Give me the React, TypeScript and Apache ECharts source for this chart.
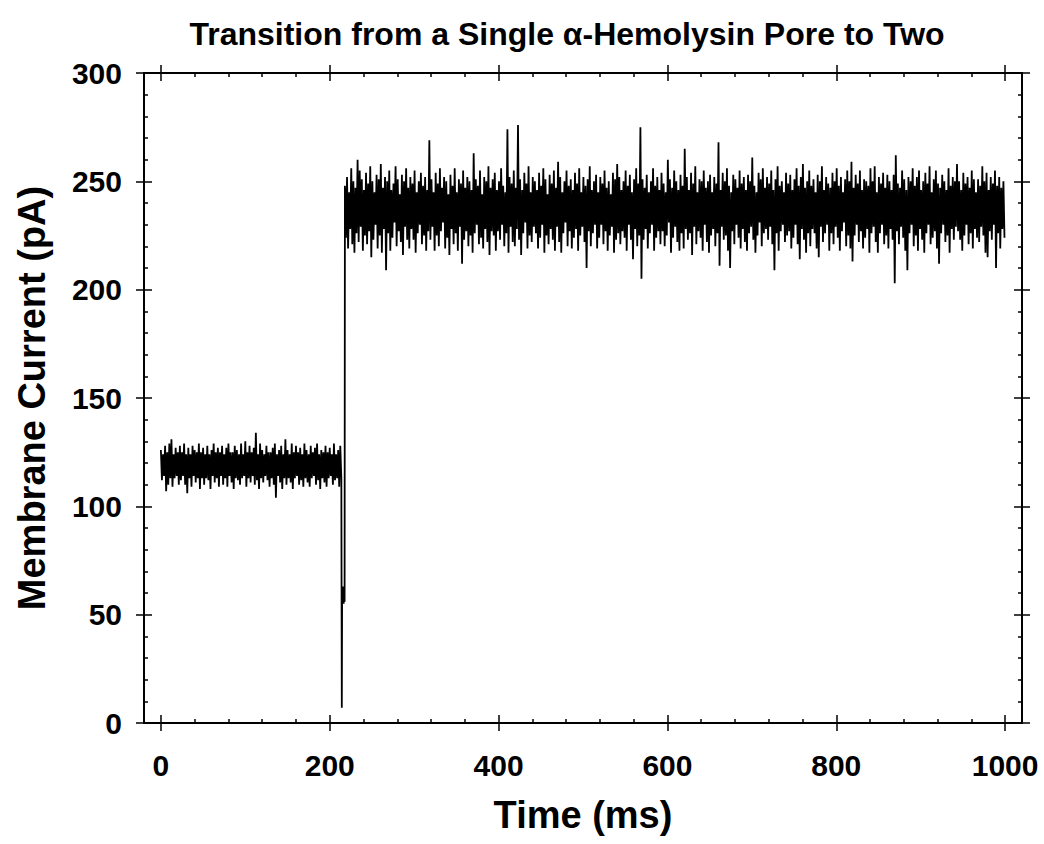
import React, { useEffect, useRef } from "react";
import * as echarts from "echarts";

// ---------- data ----------
const X_MIN = -20;
const X_MAX = 1020;
const Y_MIN = 0;
const Y_MAX = 300;

const xMajorTicks = [0, 200, 400, 600, 800, 1000];
const xMinorTicks = [40, 80, 120, 160, 240, 280, 320, 360, 440, 480, 520, 560, 640, 680, 720, 760, 840, 880, 920, 960];
const yMajorTicks = [0, 50, 100, 150, 200, 250, 300];
const yMinorTicks = [10, 20, 30, 40, 60, 70, 80, 90, 110, 120, 130, 140, 160, 170, 180, 190, 210, 220, 230, 240, 260, 270, 280, 290];

// 2.5 ms bins, upper / lower excursion of each bin (pA)
const SEG1_T0 = 0;
const SEG2_T0 = 218;
const BIN_MS = 2.5;

// single pore
const seg1High = [
  126, 124, 128, 125, 129, 131, 124, 127, 125, 128,
  125, 129, 124, 127, 124, 128, 126, 125, 129, 125,
  127, 124, 128, 124, 126, 129, 125, 127, 125, 128,
  124, 127, 129, 125, 125, 128, 126, 124, 129, 124,
  130, 125, 128, 125, 127, 134, 124, 129, 126, 124,
  128, 125, 125, 127, 129, 124, 126, 128, 124, 131,
  126, 124, 129, 125, 128, 125, 127, 124, 129, 126,
  124, 128, 125, 127, 129, 124, 126, 125, 128, 125,
  127, 124, 129, 124, 126, 128,
];
const seg1Low = [
  112, 114, 107, 110, 113, 109, 113, 114, 110, 112,
  114, 110, 106, 113, 109, 114, 111, 113, 108, 113,
  110, 113, 112, 108, 114, 111, 113, 109, 114, 110,
  113, 109, 114, 111, 108, 113, 112, 110, 113, 114,
  109, 113, 111, 114, 110, 112, 108, 113, 111, 114,
  112, 109, 113, 110, 104, 114, 111, 108, 113, 110,
  113, 111, 108, 113, 114, 110, 112, 109, 113, 111,
  109, 113, 114, 110, 112, 108, 113, 111, 109, 113,
  114, 110, 112, 113, 109, 113,
];

// insertion of the second pore (ms, pA)
const transitionTimes = [214.3, 214.7, 215.3, 215.9, 216.5, 217.1, 217.6];
const transitionValues = [7, 63, 56, 63, 55, 62, 56];

// two pores
const seg2High = [
  248, 252, 245, 256, 250, 247, 260, 255, 251, 246,
  254, 249, 257, 250, 245, 253, 251, 258, 247, 252,
  250, 255, 246, 249, 257, 251, 244, 253, 250, 256,
  247, 252, 249, 255, 245, 250, 254, 248, 252, 246,
  269, 251, 245, 254, 249, 256, 247, 252, 250, 244,
  253, 248, 256, 245, 251, 249, 255, 247, 252, 250,
  246, 263, 251, 248, 255, 244, 252, 250, 257, 247,
  251, 254, 246, 250, 256, 248, 245, 274, 252, 249,
  255, 247, 276, 251, 246, 254, 249, 257, 245, 252,
  250, 246, 254, 248, 256, 251, 244, 253, 249, 255,
  247, 259, 252, 245, 250, 255, 248, 251, 246, 254,
  249, 256, 245, 252, 248, 251, 257, 246, 250, 253,
  245, 252, 249, 255, 247, 250, 244, 254, 251, 258,
  252, 246, 250, 255, 248, 253, 245, 251, 256, 249,
  275, 251, 247, 253, 245, 250, 256, 248, 252, 246,
  254, 249, 245, 260, 251, 247, 255, 250, 246, 253,
  248, 265, 252, 246, 254, 249, 257, 245, 251, 250,
  255, 247, 250, 253, 245, 252, 249, 268, 246, 254,
  250, 256, 248, 245, 253, 251, 247, 255, 249, 252,
  246, 253, 250, 261, 248, 245, 254, 251, 256, 247,
  252, 249, 255, 246, 251, 257, 248, 250, 245, 254,
  249, 253, 246, 251, 256, 248, 252, 258, 247, 250,
  255, 248, 251, 245, 253, 250, 257, 246, 252, 249,
  247, 254, 250, 256, 248, 252, 245, 251, 255, 250,
  259, 247, 253, 249, 255, 246, 251, 250, 248, 256,
  250, 257, 245, 252, 249, 254, 247, 253, 250, 246,
  253, 262, 249, 247, 255, 251, 246, 252, 250, 256,
  248, 252, 255, 246, 250, 254, 249, 257, 245, 251,
  255, 249, 247, 253, 250, 246, 256, 248, 252, 250,
  258, 250, 246, 254, 249, 252, 247, 255, 251, 245,
  251, 248, 257, 250, 254, 246, 252, 249, 255, 248,
  252, 247, 250,
];
const seg2Low = [
  224, 219, 228, 221, 217, 226, 222, 229, 218, 225,
  221, 227, 215, 223, 230, 219, 225, 217, 228, 209,
  226, 218, 224, 231, 220, 227, 222, 216, 229, 223,
  219, 228, 223, 217, 226, 230, 221, 225, 218, 227,
  223, 229, 218, 225, 220, 227, 231, 219, 224, 216,
  228, 221, 226, 218, 229, 212, 223, 227, 220, 225,
  217, 226, 230, 221, 224, 219, 228, 222, 216, 227,
  225, 218, 227, 223, 230, 220, 226, 217, 229, 222,
  220, 228, 223, 216, 226, 231, 219, 225, 222, 229,
  226, 219, 224, 230, 217, 225, 221, 228, 223, 218,
  229, 222, 217, 226, 231, 220, 227, 219, 224, 228,
  218, 225, 229, 222, 210, 227, 220, 226, 230, 219,
  224, 230, 221, 227, 218, 225, 229, 217, 223, 226,
  221, 227, 224, 218, 230, 223, 214, 228, 220, 225,
  205, 223, 228, 219, 226, 230, 218, 224, 227, 221,
  227, 220, 225, 231, 217, 224, 229, 222, 218, 226,
  219, 228, 223, 226, 216, 229, 221, 227, 224, 218,
  230, 222, 217, 225, 228, 220, 226, 211, 229, 223,
  225, 218, 210, 227, 221, 230, 224, 219, 228, 222,
  218, 226, 229, 223, 217, 225, 231, 220, 226, 228,
  223, 229, 221, 209, 226, 218, 227, 230, 222, 225,
  227, 219, 224, 230, 221, 214, 228, 223, 217, 226,
  220, 228, 226, 219, 215, 229, 222, 226, 230, 218,
  226, 221, 229, 224, 218, 227, 231, 220, 225, 219,
  213, 225, 230, 222, 227, 219, 224, 228, 217, 226,
  229, 222, 217, 226, 230, 221, 225, 219, 228, 223,
  203, 227, 221, 229, 224, 218, 209, 226, 230, 220,
  225, 218, 228, 223, 217, 226, 230, 221, 224, 227,
  219, 212, 226, 230, 222, 225, 217, 228, 223, 229,
  227, 223, 218, 225, 230, 221, 226, 219, 228, 224,
  222, 229, 225, 217, 215, 227, 223, 230, 210, 226,
  219, 228, 224,
];

const TITLE = "Transition from a Single \u03b1-Hemolysin Pore to Two";
const X_NAME = "Time (ms)";
const Y_NAME = "Membrane Current (pA)";

// ---------- build the trace ----------
function buildTrace(): [number, number][] {
  const pts: [number, number][] = [];
  seg1High.forEach((h, i) => {
    const t = SEG1_T0 + i * BIN_MS;
    pts.push([t, h]);
    pts.push([t + BIN_MS / 2, seg1Low[i]]);
  });
  transitionTimes.forEach((t, i) => pts.push([t, transitionValues[i]]));
  seg2High.forEach((h, i) => {
    const t = SEG2_T0 + i * BIN_MS;
    pts.push([t, h]);
    pts.push([t + BIN_MS / 2, seg2Low[i]]);
  });
  return pts;
}

const FONT = "'Liberation Sans', Arial, Helvetica, sans-serif";
const BLACK = "#000";

type Kind = "majorOut" | "majorIn" | "minorIn";

function makeAxis(
  dim: "x" | "y",
  position: string,
  kind: Kind,
  withLabels: boolean,
  name?: string,
  nameGap?: number
): any {
  const isX = dim === "x";
  const majors = isX ? xMajorTicks : yMajorTicks;
  const minors = isX ? xMinorTicks : yMinorTicks;
  const ax: any = {
    type: "value",
    gridIndex: 0,
    position,
    min: isX ? X_MIN : Y_MIN,
    max: isX ? X_MAX : Y_MAX,
    splitLine: { show: false },
    axisLine: {
      show: kind === "majorOut",
      onZero: false,
      lineStyle: { color: BLACK, width: 2 },
    },
    axisTick: {
      show: true,
      inside: kind !== "majorOut",
      length: kind === "minorIn" ? 4 : 8,
      customValues: kind === "minorIn" ? minors : majors,
      lineStyle: { color: BLACK, width: 1.5 },
    },
    axisLabel: withLabels
      ? {
          show: true,
          customValues: majors,
          formatter: (v: number) => String(v),
          margin: isX ? 27 : 22,
          color: BLACK,
          fontSize: 30,
          fontWeight: "bold",
          fontFamily: FONT,
        }
      : { show: false },
  };
  if (name) {
    ax.name = name;
    ax.nameLocation = "middle";
    ax.nameGap = nameGap;
    ax.nameTextStyle = {
      color: BLACK,
      fontSize: 38,
      fontWeight: "bold",
      fontFamily: FONT,
    };
  }
  return ax;
}

export default function App() {
  const ref = useRef<HTMLDivElement>(null);

  useEffect(() => {
    if (!ref.current) return;
    const chart = echarts.init(ref.current, null, { renderer: "svg" });
    const option: any = {
      animation: false,
      backgroundColor: "#fff",
      title: {
        text: TITLE,
        left: 562,
        top: 13,
        textAlign: "center",
        textStyle: {
          color: BLACK,
          fontSize: 32,
          fontWeight: "bold",
          fontFamily: FONT,
        },
      },
      grid: { left: 144, right: 22, top: 73, bottom: 121, containLabel: false },
      xAxis: [
        makeAxis("x", "bottom", "majorOut", true, X_NAME, 73),
        makeAxis("x", "bottom", "majorIn", false),
        makeAxis("x", "bottom", "minorIn", false),
        makeAxis("x", "top", "majorOut", false),
        makeAxis("x", "top", "majorIn", false),
        makeAxis("x", "top", "minorIn", false),
      ],
      yAxis: [
        makeAxis("y", "left", "majorOut", true, Y_NAME, 93),
        makeAxis("y", "left", "majorIn", false),
        makeAxis("y", "left", "minorIn", false),
        makeAxis("y", "right", "majorOut", false),
        makeAxis("y", "right", "majorIn", false),
        makeAxis("y", "right", "minorIn", false),
      ],
      series: [
        {
          type: "line",
          xAxisIndex: 0,
          yAxisIndex: 0,
          data: buildTrace(),
          showSymbol: false,
          symbol: "none",
          lineStyle: { color: BLACK, width: 1.8, join: "miter", miterLimit: 2 },
          emphasis: { disabled: true },
          silent: true,
        },
      ],
    };
    chart.setOption(option);
    return () => chart.dispose();
  }, []);

  return (
    <div
      ref={ref}
      style={{ position: "fixed", left: 0, top: 0, width: 1044, height: 844, background: "#fff" }}
    />
  );
}
